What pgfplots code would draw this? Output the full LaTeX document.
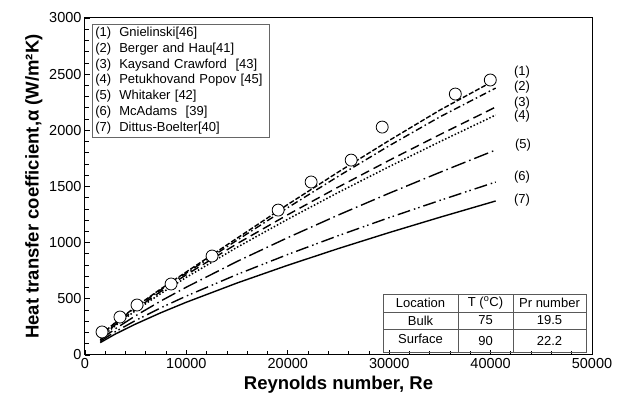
\documentclass[border=0pt]{standalone}
\usepackage{pgfplots}
\pgfplotsset{compat=1.18}
\usepackage{fontspec}
\setmainfont{Liberation Sans}

\begin{document}
\begin{tikzpicture}[x=1pt,y=1pt]
\path[use as bounding box] (-85,-46) rectangle (538,355);
\begin{axis}[
  at={(0,0)}, anchor=south west,
  scale only axis, width=507pt, height=337pt,
  xmin=0, xmax=50000, ymin=0, ymax=3000,
  xtick={0,10000,20000,30000,40000,50000},
  ytick={0,500,1000,1500,2000,2500,3000},
  minor x tick num=4, minor y tick num=4,
  tick pos=left, tick align=inside,
  major tick length=5pt, minor tick length=4pt,
  every tick/.style={black, line width=0.8pt},
  axis line style={line width=1pt},
  scaled ticks=false,
  /pgf/number format/1000 sep={},
  /pgf/number format/assume math mode=true,
  tick label style={font=\fontsize{14.5}{17}\selectfont},
  label style={font=\bfseries\fontsize{18.5}{22}\selectfont},
  xlabel={Reynolds number, Re},
  ylabel={Heat transfer coefficient,α (W/m²K)},
  clip=false,
]
% (7) Dittus-Boelter
\addplot[black, line width=1.4pt] coordinates {(1500,110) (3000,187) (5000,276) (7500,377) (10000,470) (15000,641) (20000,799) (25000,948) (30000,1090) (35000,1226) (40500,1371)};
% (6) McAdams
\addplot[black, line width=1.4pt, dash pattern=on 13pt off 4pt on 1.5pt off 3pt on 1.5pt off 4pt] coordinates {(1500,122) (3000,208) (5000,308) (7500,421) (10000,525) (15000,717) (20000,895) (25000,1063) (30000,1223) (35000,1376) (40500,1540)};
% (5) Whitaker
\addplot[black, line width=1.4pt, dash pattern=on 15pt off 4pt on 1.5pt off 4pt] coordinates {(1500,135) (3000,234) (5000,350) (7500,482) (10000,604) (15000,833) (20000,1045) (25000,1247) (30000,1440) (35000,1626) (40500,1825)};
% (4) Petukhov and Popov
\addplot[black, line width=1.5pt, dash pattern=on 1.5pt off 2pt] coordinates {(1500,150) (3000,262) (5000,396) (7500,549) (10000,692) (15000,959) (20000,1209) (25000,1448) (30000,1677) (35000,1899) (40500,2136)};
% (3) Kays and Crawford
\addplot[black, line width=1.4pt, dash pattern=on 9pt off 5pt] coordinates {(1500,155) (3000,271) (5000,409) (7500,567) (10000,715) (15000,991) (20000,1249) (25000,1496) (30000,1733) (35000,1962) (40500,2207)};
% (2) Berger and Hau
\addplot[black, line width=1.4pt, dash pattern=on 7pt off 3pt on 1.5pt off 3pt] coordinates {(1500,170) (3000,287) (5000,425) (7500,582) (10000,730) (15000,1022) (20000,1312) (25000,1592) (30000,1863) (35000,2120) (40500,2376)};
% (1) Gnielinski
\addplot[black, line width=1.4pt, dash pattern=on 5pt off 2pt] coordinates {(1500,175) (3000,290) (5000,430) (7500,590) (10000,740) (15000,1040) (20000,1340) (25000,1630) (30000,1910) (35000,2180) (40500,2450)};
% experimental
\addplot[only marks, mark=*, mark size=6pt, mark options={fill=white, draw=black, line width=0.8pt}] coordinates {(1680,205) (3450,338) (5130,445) (8490,632) (12530,881) (19050,1290) (22300,1540) (26250,1735) (29310,2029) (36520,2323) (39970,2448)};

% curve labels
\begin{scope}[every node/.style={font=\fontsize{13}{15}\selectfont}]
\node at (axis cs:43100,2519) {(1)};
\node at (axis cs:43100,2385) {(2)};
\node at (axis cs:43100,2243) {(3)};
\node at (axis cs:43100,2127) {(4)};
\node at (axis cs:43200,1869) {(5)};
\node at (axis cs:43100,1584) {(6)};
\node at (axis cs:43100,1380) {(7)};
\end{scope}

% legend box
\node[draw=black!60, line width=0.8pt, anchor=north west, inner xsep=3pt, inner ysep=1.5pt,
  minimum width=177pt, minimum height=113pt, text width=171pt, align=left,
  font=\fontsize{13}{15.7}\selectfont] at (axis cs:690,2947)
{\begin{tabular}{@{}l@{\hspace{8pt}}l@{}}
(1) & Gnielinski[46]\\
(2) & Berger and Hau[41]\\
(3) & Kaysand Crawford\ \ [43]\\
(4) & Petukhovand Popov [45]\\
(5) & Whitaker [42]\\
(6) & McAdams\ \ [39]\\
(7) & Dittus-Boelter[40]
\end{tabular}};

% property table
\draw[black!65, line width=0.8pt] (axis cs:29390,20) rectangle (axis cs:49410,543);
\draw[black!65, line width=0.8pt] (axis cs:29390,383) -- (axis cs:49410,383);
\draw[black!65, line width=0.8pt] (axis cs:29390,231) -- (axis cs:49410,231);
\draw[black!65, line width=0.8pt] (axis cs:36790,20) -- (axis cs:36790,543);
\draw[black!65, line width=0.8pt] (axis cs:42210,20) -- (axis cs:42210,543);
\begin{scope}[every node/.style={font=\fontsize{13}{15}\selectfont}]
\node at (axis cs:33090,463) {Location};
\node at (axis cs:39500,463) {T (\textsuperscript{o}C)};
\node at (axis cs:45810,463) {Pr number};
\node at (axis cs:33090,307) {Bulk};
\node at (axis cs:39500,307) {75};
\node at (axis cs:45810,307) {19.5};
\node at (axis cs:33090,140) {Surface};
\node at (axis cs:39500,125) {90};
\node at (axis cs:45810,125) {22.2};
\end{scope}
\end{axis}
\end{tikzpicture}
\end{document}
